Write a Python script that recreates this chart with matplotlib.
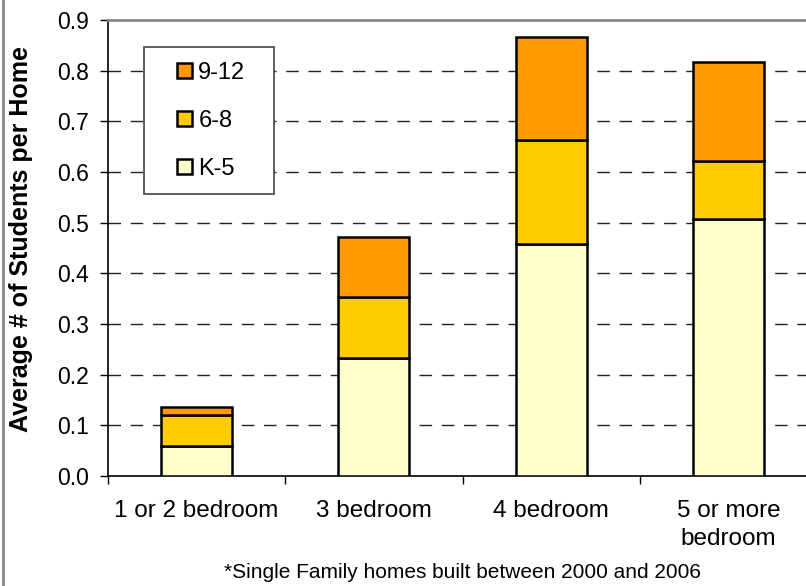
import matplotlib.pyplot as plt
import matplotlib.patches as patches
from matplotlib.lines import Line2D
import numpy as np

plt.rcParams['font.family'] = ['Liberation Sans', 'DejaVu Sans']

# Data
categories = ['1 or 2 bedroom', '3 bedroom', '4 bedroom', '5 or more\nbedroom']
k5 = [0.059, 0.232, 0.458, 0.507]
g68 = [0.062, 0.121, 0.206, 0.115]
g912 = [0.015, 0.119, 0.202, 0.196]
series_labels = ['K-5', '6-8', '9-12']
y_ticks = [0.0, 0.1, 0.2, 0.3, 0.4, 0.5, 0.6, 0.7, 0.8, 0.9]

c_k5 = '#FFFFCC'
c_68 = '#FFCC00'
c_912 = '#FF9900'

W, H = 806, 586
fig = plt.figure(figsize=(W / 100, H / 100), dpi=100)
fig.patch.set_facecolor('white')

# axes placed by pixel measurements; right edge runs past the image
ax = fig.add_axes([108 / W, 1 - 476 / H, 709 / W, 456 / H])

x = np.arange(len(categories))
bw = 0.4
bar_kw = dict(width=bw, edgecolor='black', linewidth=1.8, zorder=3)
b1 = ax.bar(x, k5, color=c_k5, label=series_labels[0], **bar_kw)
b2 = ax.bar(x, g68, bottom=k5, color=c_68, label=series_labels[1], **bar_kw)
bot = np.array(k5) + np.array(g68)
b3 = ax.bar(x, g912, bottom=bot, color=c_912, label=series_labels[2], **bar_kw)

ax.set_xlim(-0.5, len(categories) - 0.5)
ax.set_ylim(0, 0.9)
ax.set_yticks(y_ticks)
ax.set_yticklabels(['%.1f' % v for v in y_ticks])

# dashed gridlines
for v in y_ticks[1:-1]:
    ax.axhline(v, color='#222222', lw=1.0, dashes=(9, 7), zorder=1)

# x ticks at category boundaries, labels at centres
ax.set_xticks(x)
ax.set_xticklabels(categories, fontsize=17.5, linespacing=1.35)
ax.set_xticks(np.arange(-0.5, len(categories)), minor=True)
ax.tick_params(axis='x', which='major', length=0, pad=17)
ax.tick_params(axis='x', which='minor', length=6, width=1, direction='out', color='black')
ax.tick_params(axis='y', length=6, width=1, direction='out', pad=8, labelsize=16.5)

for s in ['left', 'bottom']:
    ax.spines[s].set_color('black')
    ax.spines[s].set_linewidth(1.2)
ax.spines['top'].set_color('#888888')
ax.spines['top'].set_linewidth(2)
ax.spines['right'].set_visible(False)

ax.set_ylabel('Average # of Students per Home', fontsize=18, fontweight='bold')
ax.yaxis.set_label_coords(-75 / 709, 0.52)

# legend: frameless legend inside a hand-drawn box
fig.patches.append(patches.Rectangle((144 / W, 1 - 194 / H), 130 / W, 147 / H,
                                     transform=fig.transFigure, facecolor='white',
                                     edgecolor='#444444', linewidth=1.2, zorder=4))
leg = fig.legend([b3, b2, b1], ['9-12', '6-8', 'K-5'], loc='upper left',
                 bbox_to_anchor=(177 / W, 1 - 62 / H), frameon=False, fontsize=17,
                 handlelength=0.62, handleheight=0.62, handletextpad=0.28,
                 labelspacing=1.1, borderpad=0, borderaxespad=0)
leg.set_zorder(5)

# caption and left border line
fig.text(462 / W, 1 - 573 / H, '*Single Family homes built between 2000 and 2006',
         ha='center', va='center', fontsize=15)
fig.add_artist(Line2D([2.5 / W, 2.5 / W], [0, 1], transform=fig.transFigure,
                      color='#888888', lw=2))

plt.savefig('out.png', dpi=100)
